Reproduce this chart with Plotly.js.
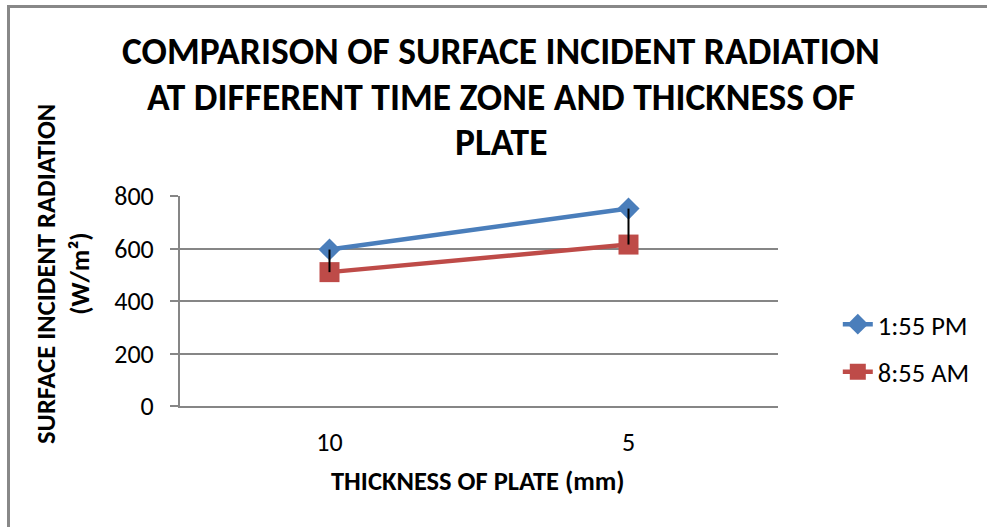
<!DOCTYPE html>
<html>
<head>
<meta charset="utf-8">
<script src="https://cdn.plot.ly/plotly-3.0.1.min.js"></script>
<style>
html,body{margin:0;padding:0;background:#fff;overflow:hidden;}
#chart{width:987px;height:527px;position:relative;}
#frame{position:absolute;left:7px;top:5px;width:980px;height:522px;border-top:3px solid #888;border-left:3px solid #888;box-sizing:border-box;pointer-events:none;}
</style>
</head>
<body>
<div id="chart"></div>
<div id="frame"></div>
<script>
const categories = ["10", "5"];
const pm155 = [596, 752];
const am855 = [510, 615];
const dropToAm = [86, 137];
const yTicks = [0, 200, 400, 600, 800];
const seriesNames = ["1:55 PM", "8:55 AM"];
const titleLines = ["COMPARISON OF SURFACE INCIDENT RADIATION", "AT DIFFERENT TIME ZONE AND THICKNESS OF", "PLATE"];

const FONT = "Carlito, Calibri, Lato, 'Open Sans', sans-serif";

const traces = [
  {
    x: categories, y: pm155, name: seriesNames[0], type: 'scatter', mode: 'lines+markers',
    line: {color: '#4A7EBB', width: 4.5},
    marker: {symbol: 'diamond', size: 17, color: '#4A7EBB'},
    legendgroup: 'a'
  },
  {
    x: categories, y: am855, name: seriesNames[1], type: 'scatter', mode: 'lines+markers',
    line: {color: '#BE4B48', width: 4.5},
    marker: {symbol: 'square', size: 20, color: '#BE4B48'},
    legendgroup: 'b'
  },
  {
    x: categories, y: pm155, type: 'scatter', mode: 'markers', showlegend: false, hoverinfo: 'skip',
    marker: {size: 1, opacity: 0},
    error_y: {type: 'data', symmetric: false, array: [0, 0], arrayminus: dropToAm, width: 0, thickness: 2, color: '#000'}
  }
];

const annotations = [];
const titleY = [50, 96, 141];
titleLines.forEach((t, i) => {
  annotations.push({text: '<b>' + t + '</b>', xref: 'paper', yref: 'paper', x: (502 - 180) / 600, y: (405.7 - titleY[i]) / 210.3,
    xanchor: 'center', yanchor: 'middle', showarrow: false, font: {family: FONT, size: 37.5, color: '#000'}});
});
annotations.push({text: '<b>SURFACE INCIDENT RADIATION</b>', xref: 'paper', yref: 'paper', x: (46 - 180) / 600, y: (405.7 - 273) / 210.3,
  xanchor: 'center', yanchor: 'middle', textangle: -90, showarrow: false, font: {family: FONT, size: 26.5, color: '#000'}});
annotations.push({text: '<b>(W/m²)</b>', xref: 'paper', yref: 'paper', x: (80 - 180) / 600, y: (405.7 - 273) / 210.3,
  xanchor: 'center', yanchor: 'middle', textangle: -90, showarrow: false, font: {family: FONT, size: 26.5, color: '#000'}});
annotations.push({text: '<b>THICKNESS OF PLATE (mm)</b>', xref: 'paper', yref: 'paper', x: (479 - 180) / 600, y: (405.7 - 481) / 210.3,
  xanchor: 'center', yanchor: 'middle', showarrow: false, font: {family: FONT, size: 26.5, color: '#000'}});

const layout = {
  width: 987, height: 527,
  margin: {l: 180, r: 207, t: 196, b: 121, pad: 0},
  paper_bgcolor: '#fff', plot_bgcolor: '#fff',
  font: {family: FONT, color: '#000'},
  showlegend: true,
  legend: {x: (840 - 180) / 600, y: (405.7 - 300) / 210.3, xanchor: 'left', yanchor: 'top',
    font: {family: FONT, size: 26.5, color: '#000'}, traceorder: 'grouped', tracegroupgap: 10, bgcolor: 'rgba(0,0,0,0)'},
  xaxis: {type: 'category', range: [-0.5, 1.5], showgrid: false, showline: true, linecolor: '#868686', linewidth: 2,
    ticks: '', tickfont: {family: FONT, size: 26, color: '#000'}, ticklabelstandoff: 12, zeroline: false, fixedrange: true},
  yaxis: {range: [0, 800], tickvals: yTicks, showgrid: true, gridcolor: '#868686', gridwidth: 2, showline: true,
    linecolor: '#868686', linewidth: 2, ticks: 'outside', ticklen: 8, tickwidth: 2, tickcolor: '#868686',
    tickfont: {family: FONT, size: 26, color: '#000'}, ticklabelstandoff: 11, zeroline: false, fixedrange: true},
  annotations: annotations
};

Plotly.newPlot('chart', traces, layout, {displayModeBar: false, staticPlot: true});
</script>
</body>
</html>
